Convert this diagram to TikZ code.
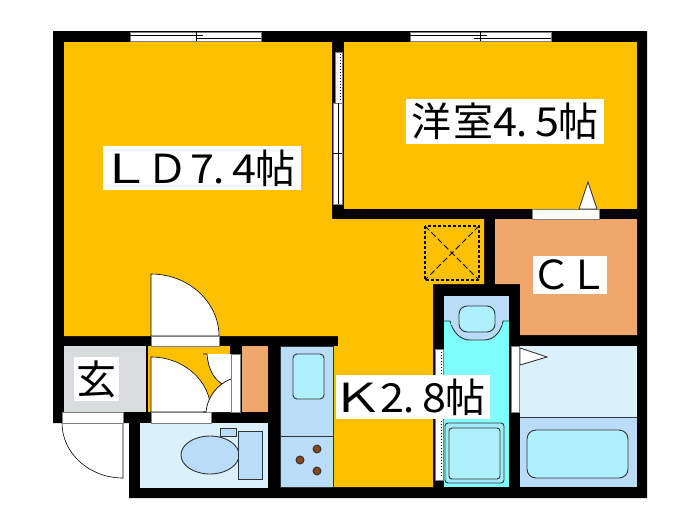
\documentclass[tikz,border=0pt]{standalone}
\usepackage{graphicx}
\usepackage{fontspec}
\newfontfamily\jpfont{Noto Sans CJK JP}
\definecolor{yel}{HTML}{FFC000}
\definecolor{ora}{HTML}{EFA76B}
\definecolor{gry}{HTML}{D9DCDC}
\definecolor{pale}{HTML}{DAF1FC}
\definecolor{blu}{HTML}{B9DCF8}
\definecolor{aqua}{HTML}{AEF0FC}
\definecolor{cya}{HTML}{80FFFF}
\definecolor{brn}{HTML}{8B4513}
\newcommand{\hw}[1]{\makebox[21pt]{\scalebox{1.08}[1]{#1}}}
\newcommand{\dt}{\makebox[21pt][l]{\hspace{1pt}.}}
\newcommand{\fw}[1]{\makebox[42pt]{#1}}
\newcommand{\wl}[1]{\makebox[42pt]{\scalebox{1.3}[1]{#1}\hspace{6pt}}}
\newcommand{\wdd}[1]{\makebox[42pt]{\scalebox{1.05}[1]{#1}\hspace{6pt}}}
\tikzset{
  x=1pt,y=-1pt,
  thin line/.style={draw=black,line width=0.7pt},
  fixture/.style={draw=black!80,line width=0.9pt},
  opening/.style={fill=white,draw=gray,line width=0.5pt},
  roomlabel/.style={fill=white,inner sep=0pt,font=\jpfont\fontsize{40}{42}\selectfont,text=black,anchor=center,align=center},
}
\begin{document}
\begin{tikzpicture}
\useasboundingbox (0,0) rectangle (700,525);
\fill[white] (0,0) rectangle (700,525);
% walls
\fill[black] (53,31) -- (647,31) -- (647,498) -- (129,498) -- (129,423) -- (53,423) -- cycle;
% rooms
\fill[yel] (64,42) -- (332,42) -- (332,219) -- (484,219) -- (484,284) -- (433,284) -- (433,487) -- (333,487) -- (333,346) -- (338,346) -- (338,336) -- (64,336) -- cycle;
\fill[yel] (344,42) rectangle (637,209);
\fill[ora] (495,219) -- (637,219) -- (637,335) -- (520,335) -- (520,284) -- (495,284) -- cycle;
\fill[gry] (64,346) rectangle (146,412);
\fill[yel] (148,346) rectangle (230,412);
\fill[ora] (242,346) rectangle (268,412);
\fill[pale] (140,423) rectangle (268,488);
\fill[blu] (280,346) rectangle (333,487);
\fill[cya] (444,296) rectangle (509,487);
\fill[pale] (520,346) rectangle (637,417);
\fill[blu] (520,417) rectangle (637,487);
% kitchen
\draw[fixture] (280,346) rectangle (333,487);
\draw[fixture] (280,436) -- (333,436);
\draw[fixture,fill=aqua,rounded corners=4pt] (293,354) rectangle (324,399);
\draw[fixture,fill=brn] (317,449) circle (4);
\draw[fixture,fill=brn] (300,460) circle (4);
\draw[fixture,fill=brn] (317,471) circle (4);
% washroom
\fill[blu] (444,296) rectangle (509,321);
\draw[fixture,fill=blu] (444,321) -- (450,321) .. controls (453,332) and (460,340) .. (470,340) -- (484,340) .. controls (494,340) and (501,332) .. (503,321) -- (509,321);
\fill[blu] (451,320) rectangle (502,325);
\draw[fixture,fill=aqua,rounded corners=8pt] (459,306) rectangle (495,332);
\draw[fixture,fill=blu!60!cya,rounded corners=3pt] (445,423) rectangle (504,483);
\draw[fixture,fill=aqua,rounded corners=3pt] (449,428) rectangle (500,479);
% bath
\draw[fixture] (520,417) -- (637,417);
\draw[fixture,fill=aqua,rounded corners=9pt] (527,430) rectangle (628,478);
\draw[fixture,fill=white] (520,348) -- (547,357) -- (520,365) -- cycle;
% toilet
\draw[fixture,fill=blu] (220,428) rectangle (236,436);
\begin{scope}
\clip (170,425) rectangle (238,485);
\draw[fixture,fill=blu] (210,455) ellipse (29 and 19);
\end{scope}
\draw[fixture,fill=blu] (238,431) rectangle (262,479);
% doors
\fill[white,draw=black,line width=0.6pt] (151,336) -- (151,274) .. controls (188.5,274) and (219,302) .. (219,336) -- cycle;
\fill[opening] (151,336) rectangle (219,346);
\fill[white,draw=black,line width=0.6pt] (151,412) -- (151,357) .. controls (184,357) and (211,381) .. (211,412) -- cycle;
\fill[opening] (151,412) rectangle (211,423);
\fill[white,draw=black,line width=0.6pt] (123,423) -- (62,423) .. controls (62,453) and (89,478) .. (123,478) -- cycle;
\fill[opening] (62,412) rectangle (123,423);
% closet folding doors
\fill[black] (230,346) rectangle (242,354);
\fill[white] (206,354) .. controls (208,368) and (213,378) .. (222,384) .. controls (213,390) and (207,400) .. (206,412) -- (231,412) -- (231,354) -- cycle;
\draw[thin line] (203,354) -- (207,354) .. controls (208,368) and (213,378) .. (222,384);
\draw[thin line] (231,379) .. controls (217,384) and (207,398) .. (206,412) -- (203,412);
\fill[opening] (231,354) rectangle (240,412);
% room sliding doors
\fill[opening] (511,346) rectangle (519,412);
\fill[opening] (435,349) rectangle (443,480);
\draw[black,line width=1pt,dotted] (441,352) -- (441,478);
% windows
\fill[opening] (130,32) rectangle (261,41);
\draw[thin line] (130,35) -- (203,35) (196,38) -- (261,38) (196,32) -- (196,41);
\fill[opening] (410,32) rectangle (551,41);
\draw[thin line] (410,35) -- (487,35) (474,38) -- (551,38) (480,32) -- (480,41);
\fill[opening] (335,52) rectangle (342,103);
\draw[black,line width=1pt,dotted] (340,54) -- (340,102);
\fill[opening] (333,103) rectangle (342,204);
\draw[thin line] (338,103) -- (338,204) (333,153) -- (342,153);
% closet door and its mark
\fill[opening] (532,209) rectangle (599,219);
\draw[fixture,fill=white] (579,209) -- (588,182) -- (597,209) -- cycle;
% hatch
\draw[black,line width=1.1pt,dash pattern=on 3pt off 2pt] (425,226) rectangle (479,280);
\draw[black,line width=1pt,dash pattern=on 6pt off 3pt] (425,226) -- (479,280) (479,226) -- (425,280);
% labels
\node[roomlabel,minimum width=198pt,minimum height=44pt] (ld) at (202,168) {\wl{Ｌ}\wdd{Ｄ}\hw{7}\dt\hw{4}\fw{帖}};
\node[roomlabel,minimum width=198pt,minimum height=45pt] (yo) at (505,121.5) {\fw{洋}\fw{室}\hw{4}\dt\hw{5}\fw{帖}};
\node[roomlabel,minimum width=154pt,minimum height=44pt] (kt) at (413,397) {\wl{Ｋ}\hw{2}\dt\hw{8}\fw{帖}};
\node[roomlabel,minimum width=74pt,minimum height=38pt] (cl) at (570,275) {\makebox[37pt]{Ｃ}\makebox[37pt]{\hspace{-1pt}Ｌ}};
\node[roomlabel,minimum width=45pt,minimum height=44pt] (gk) at (96.5,379) {玄};
\end{tikzpicture}
\end{document}
